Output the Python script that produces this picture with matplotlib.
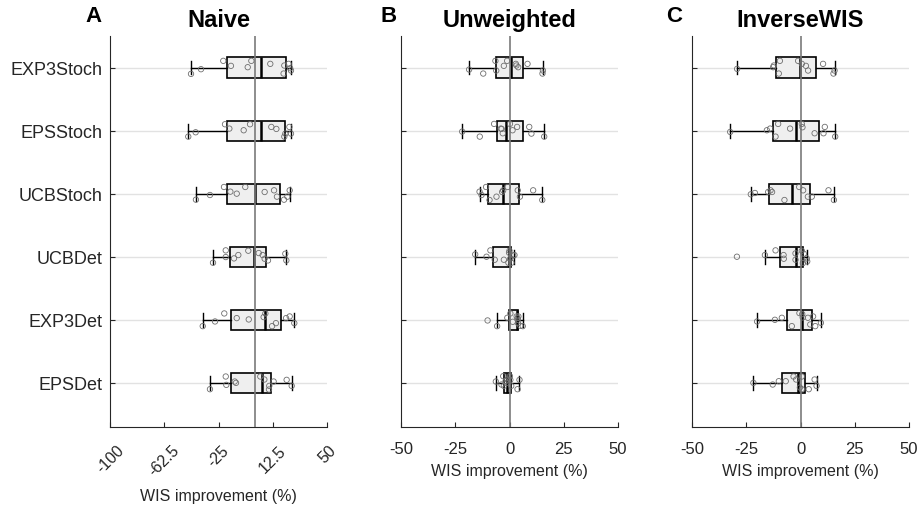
import numpy as np
import matplotlib
matplotlib.use("Agg")
import matplotlib.pyplot as plt

plt.rcParams['font.family'] = ['Liberation Sans', 'DejaVu Sans']
plt.rcParams['axes.unicode_minus'] = False

# rows from bottom to top
methods = ['EPSDet', 'EXP3Det', 'UCBDet', 'UCBStoch', 'EPSStoch', 'EXP3Stoch']
titles = ['Naive', 'Unweighted', 'InverseWIS']
letters = ['A', 'B', 'C']

# WIS improvement (%) per method, one value per circle
naive = {
    'EXP3Stoch': [-44.0, -37.1, -21.7, -16.4, -4.8, -2.3, 10.8, 20.0, 20.5, 23.5, 24.5, 25.1],
    'EPSStoch': [-45.9, -40.8, -20.5, -17.5, -7.6, -3.2, 11.5, 15.0, 20.5, 21.2, 24.0, 25.1],
    'UCBStoch': [-40.6, -30.9, -21.2, -16.8, -12.4, -6.5, 6.9, 13.4, 15.4, 20.3, 22.6, 24.2],
    'UCBDet': [-28.8, -20.0, -20.0, -14.3, -11.3, -4.4, 2.8, 5.5, 6.9, 9.2, 21.2, 21.9],
    'EXP3Det': [-35.9, -27.4, -21.0, -12.4, -4.1, 6.2, 7.4, 12.0, 14.7, 21.7, 24.2, 27.4],
    'EPSDet': [-30.9, -20.0, -19.6, -13.8, -12.9, 3.9, 6.7, 9.9, 10.1, 13.1, 22.1, 25.6],
}
unweighted = {
    'EXP3Stoch': [-18.6, -12.1, -6.5, -6.1, -2.6, -1.1, 2.9, 3.2, 4.0, 8.3, 15.2, 15.4],
    'EPSStoch': [-21.8, -13.7, -7.1, -4.0, -3.6, -3.1, 0.2, 1.4, 3.5, 9.1, 10.1, 16.0],
    'UCBStoch': [-13.8, -12.9, -10.8, -9.2, -6.0, -3.4, -2.9, -0.8, 3.8, 4.8, 10.9, 15.1],
    'UCBDet': [-15.8, -10.6, -8.8, -6.8, -2.6, -0.5, -0.2, 0.0, 0.3, 0.9, 1.7, 2.3],
    'EXP3Det': [-10.1, -5.7, -1.0, 0.4, 1.5, 3.3, 3.7, 3.8, 3.9, 4.1, 5.0, 6.1],
    'EPSDet': [-6.3, -3.7, -2.9, -2.6, -1.8, -1.4, -1.0, 0.2, 0.4, 0.8, 3.7, 4.6],
}
inverse_wis = {
    'EXP3Stoch': [-29.2, -12.6, -12.3, -10.0, -9.5, -1.1, 0.6, 2.5, 3.5, 10.4, 15.2, 15.7],
    'EPSStoch': [-32.4, -15.5, -14.0, -11.5, -10.3, -4.8, 0.6, 0.9, 6.5, 10.6, 11.2, 16.0],
    'UCBStoch': [-22.9, -21.0, -14.9, -13.8, -13.1, -7.4, -0.6, 1.2, 3.4, 5.2, 12.9, 15.4],
    'UCBDet': [-29.3, -16.4, -11.5, -7.8, -7.7, -2.3, -2.3, 0.6, 1.1, 1.5, 2.9, 3.1],
    'EXP3Det': [-20.0, -11.8, -8.6, -4.0, -0.5, 0.8, 1.0, 3.4, 4.5, 5.8, 6.8, 9.4],
    'EPSDet': [-21.7, -12.8, -10.0, -6.8, -3.2, -2.0, -0.3, 0.6, 0.6, 3.8, 6.5, 7.4],
}

# vertical jitter of the circles (in 1/190 of the row spacing)
jit_naive = {
    'EXP3Stoch': [-19, -5, 20, 5, 1, 20, 11, -18, 6, 11, -2, -9],
    'EPSStoch': [-18, -5, 19, 6, 1, 19, 11, 5, -18, -9, 11, -9],
    'UCBStoch': [-18, -4, 20, 6, 0, 20, 5, 10, -9, -18, -9, 10],
    'UCBDet': [-18, 19, -1, -5, 5, 18, 11, 5, -6, -11, 9, -11],
    'EXP3Det': [-19, -5, 19, 5, 1, 8, 19, -19, -10, 5, 10, -10],
    'EPSDet': [-19, 19, -6, 4, 0, 19, 10, -20, -9, 4, 9, -9],
}
jit_unweighted = {
    'EXP3Stoch': [-6, -18, 20, -9, 5, 20, 11, 6, 1, 11, -18, -9],
    'EPSStoch': [-3, -18, 20, 6, 5, -8, 20, 1, 11, 11, -9, -18],
    'UCBStoch': [6, -4, 20, -19, -9, 5, 10, 20, 10, -9, 10, -19],
    'UCBDet': [7, 0, 19, -9, -9, -18, 12, 18, -6, -18, 4, 5],
    'EXP3Det': [-2, -19, 6, 19, -6, 10, 5, 0, -10, 10, -18, -19],
    'EPSDet': [4, -5, 20, -9, 5, 0, 10, 20, 9, -9, -19, 9],
}
jit_inverse = {
    'EXP3Stoch': [-4, 1, 6, -18, 20, 20, 11, 5, -9, 11, -18, -9],
    'EPSStoch': [-4, 1, 6, -18, 20, 6, 20, 10, -8, -8, 11, -18],
    'UCBStoch': [-2, 2, 5, 10, 5, -19, 20, 10, -9, -9, 10, -19],
    'UCBDet': [0, 5, 19, 5, -6, 10, -9, 18, -19, 9, -5, -14],
    'EXP3Det': [-5, 0, 6, -19, 20, 17, 7, 6, -14, 10, -19, -9],
    'EPSDet': [0, -5, 5, 5, 19, 10, -14, 19, -19, -19, 10, -9],
}

panels = [naive, unweighted, inverse_wis]
jitters = [jit_naive, jit_unweighted, jit_inverse]
xlims = [(-100, 50), (-50, 50), (-50, 50)]
xticks = [[-100, -62.5, -25, 12.5, 50], [-50, -25, 0, 25, 50], [-50, -25, 0, 25, 50]]
xticklabels = [['-100', '-62.5', '-25', '12.5', '50'],
               ['-50', '-25', '0', '25', '50'],
               ['-50', '-25', '0', '25', '50']]


def box_stats(vals, label):
    v = np.sort(np.asarray(vals, dtype=float))
    q1, med, q3 = np.percentile(v, [25, 50, 75], method='hazen')
    iqr = q3 - q1
    lo = v[v >= q1 - 1.5 * iqr].min()
    hi = v[v <= q3 + 1.5 * iqr].max()
    return dict(label=label, q1=q1, med=med, q3=q3, whislo=lo, whishi=hi, fliers=[])


fig = plt.figure(figsize=(9.21, 5.06), dpi=100)
W, H = 921, 506
lefts = [110, 401, 692]
dark = '#262626'

for i, (data, jit) in enumerate(zip(panels, jitters)):
    ax = fig.add_axes([lefts[i] / W, 1 - 428 / H, 217 / W, 391 / H])
    pos = np.arange(1, len(methods) + 1)

    for p in pos:
        ax.axhline(p, color='#e2e2e2', lw=1.0, zorder=0)

    stats = [box_stats(data[m], m) for m in methods]
    ax.bxp(stats, positions=pos, widths=0.32, capwidths=0.22,
           orientation='horizontal', patch_artist=True, showfliers=False,
           manage_ticks=False,
           boxprops=dict(facecolor='#efefef', edgecolor='black', lw=1.2),
           medianprops=dict(color='black', lw=1.8),
           whiskerprops=dict(color='black', lw=1.0),
           capprops=dict(color='black', lw=1.0))

    ax.axvline(0, color='#7a7a7a', lw=1.2, zorder=3)

    for p, m in zip(pos, methods):
        y = p + np.array(jit[m]) * 0.0053
        ax.scatter(data[m], y, s=15, facecolors='none', edgecolors='#6e6e6e',
                   linewidths=0.6, zorder=4)

    ax.set_xlim(*xlims[i])
    ax.set_ylim(0.3, 6.5)
    ax.set_xticks(xticks[i])
    ax.set_yticks(pos)

    for s in ['top', 'right']:
        ax.spines[s].set_visible(False)
    for s in ['left', 'bottom']:
        ax.spines[s].set_color(dark)
        ax.spines[s].set_linewidth(0.8)

    ax.tick_params(direction='in', length=3.5, width=0.8, color=dark,
                   labelcolor=dark)
    if i == 0:
        ax.set_yticklabels(methods, fontsize=13)
        ax.tick_params(axis='y', pad=5.5)
        ax.set_xticklabels(xticklabels[i], fontsize=11.5, rotation=45, ha='center')
        ax.tick_params(axis='x', pad=11)
        ax.set_xlabel('WIS improvement (%)', fontsize=11.5, color=dark, labelpad=7)
    else:
        ax.set_yticklabels([])
        ax.set_xticklabels(xticklabels[i], fontsize=12)
        ax.tick_params(axis='x', pad=10)
        ax.set_xlabel('WIS improvement (%)', fontsize=11.5, color=dark, labelpad=5)

    ax.set_title(titles[i], fontsize=17, fontweight='bold', pad=7)

letter_x = [93, 389, 674]
for lx, letter in zip(letter_x, letters):
    fig.text(lx / W, 1 - 16 / H, letter, fontsize=16, fontweight='bold',
             ha='center', va='center')

fig.savefig('out.png', dpi=100)
